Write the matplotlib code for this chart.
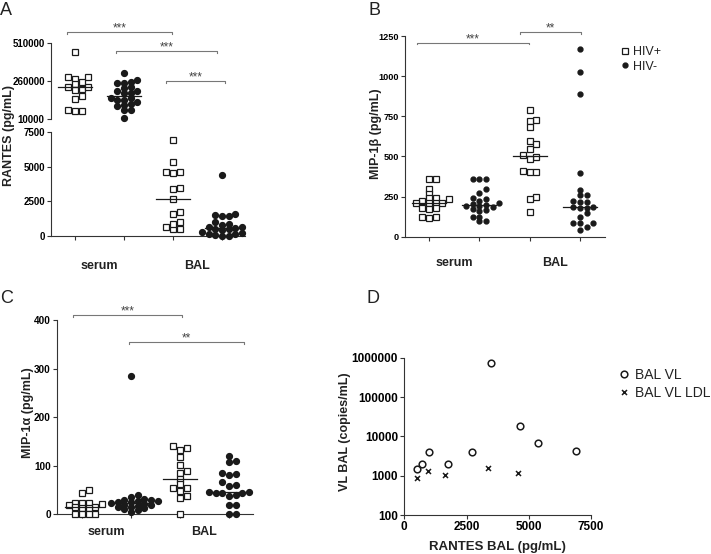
import numpy as np
import matplotlib
matplotlib.use('Agg')
import matplotlib.pyplot as plt
from matplotlib.lines import Line2D
from matplotlib.ticker import NullLocator

plt.rcParams['font.family'] = ['Liberation Sans', 'DejaVu Sans']
plt.rcParams['text.color'] = '#222222'

# ---- data ----
groups = ['serum', 'BAL']

rantes_serum_pos = [447000, 286000, 273000, 256000, 283000, 240000, 224000, 198000,
                    209000, 224000, 159000, 141000, 71000, 65000, 67000]
rantes_serum_neg = [310000, 267000, 250000, 224000, 245000, 256000, 192000, 181000,
                    213000, 192000, 147000, 137000, 181000, 137000, 147000, 111000,
                    104000, 126000, 97000, 71000, 71000, 17000]
rantes_bal_pos = [6900, 5320, 4600, 4550, 4600, 3370, 3460, 2700, 1620, 1740, 1000,
                  640, 500, 520, 900]
rantes_bal_neg = [4370, 1600, 1500, 1450, 1450, 1050, 900, 800, 700, 650, 600, 550,
                  500, 450, 300, 250, 200, 150, 100, 50, 30]

mip1b_serum_pos = [362, 362, 300, 269, 238, 232, 238, 207, 207, 221, 207, 207, 176,
                   170, 180, 124, 114, 120]
mip1b_serum_neg = [362, 362, 362, 300, 275, 240, 235, 225, 210, 205, 193, 195, 190,
                   185, 170, 165, 160, 125, 120, 95, 95]
mip1b_bal_pos = [790, 728, 719, 682, 595, 575, 548, 497, 510, 485, 407, 403, 403,
                 248, 234, 155]
mip1b_bal_neg = [1167, 1028, 887, 395, 293, 262, 262, 215, 217, 222, 182, 180, 186,
                 176, 145, 124, 87, 83, 87, 41, 58]

mip1a_serum_pos = [50, 44.5, 24, 23, 23, 21, 19, 16, 14, 12, 12, 0, 0, 0, 0]
mip1a_serum_neg = [285, 40, 35, 32, 30, 30, 28, 27, 25, 25, 24, 22, 20, 20, 18, 15,
                   15, 12, 10, 8, 5]
mip1a_bal_pos = [140, 137, 133, 117, 102, 89, 86, 73, 62, 55, 55, 47, 38, 33, 0]
mip1a_bal_neg = [119, 110, 108, 84, 82, 80, 66, 60, 58, 46, 45, 44, 44, 43, 40, 38,
                 20, 20, 0, 0]

vl_rantes = [496, 698, 1006, 1771, 2737, 3489, 4656, 5354, 6910]
vl_copies = [1480, 2000, 4070, 2030, 3980, 730000, 18600, 6900, 4240]
ldl_rantes = [523, 939, 1637, 3381, 4562]
ldl_copies = [855, 1350, 1070, 1540, 1200]

W, H = 711, 554
STEP = 6.7   # horizontal pitch of the dots, px
GAP = 4.8    # min distance between dot centres, px
BAR_C = '#777777'
INK = '#1a1a1a'


def rect(x0, y0, x1, y1):
    return [x0 / W, 1 - y1 / H, (x1 - x0) / W, (y1 - y0) / H]


def swarm(vals, px_unit):
    # greedy beeswarm: offsets in px
    vals = np.asarray(vals, float)
    placed = []
    offs = np.zeros(len(vals))
    cands = [0.0]
    for j in range(1, 12):
        cands += [j * STEP, -j * STEP]
    for i in np.argsort(vals):
        y = vals[i] * px_unit
        for c in cands:
            if all((c - px) ** 2 + (y - py) ** 2 >= GAP ** 2 for px, py in placed):
                break
        placed.append((c, y))
        offs[i] = c
    return offs


def column(ax, pos, vals, hollow, ms, px_unit, px_x):
    vals = np.asarray(vals, float)
    x = pos + swarm(vals, px_unit) / px_x
    if hollow:
        ax.plot(x, vals, 's', ms=ms, mfc='white', mec=INK, mew=0.9, ls='none', clip_on=False, zorder=3)
    else:
        ax.plot(x, vals, 'o', ms=ms, color=INK, ls='none', clip_on=False, zorder=3)
    med = np.median(vals)
    ax.plot([pos - 0.34, pos + 0.34], [med, med], color=INK, lw=0.9, zorder=4)


def sig(ax, x0, x1, y, drop, stars):
    ax.plot([x0, x0, x1, x1], [y - drop, y, y, y - drop], color=BAR_C, lw=0.8, clip_on=False)
    ax.annotate(stars, xy=((x0 + x1) / 2, y), xytext=(0, 0.5), textcoords='offset points',
                ha='center', va='baseline', fontsize=8.5, color='#444444', annotation_clip=False)


def style(ax, labelsize=7):
    for s in ['top', 'right']:
        ax.spines[s].set_visible(False)
    for s in ['left', 'bottom']:
        ax.spines[s].set_linewidth(0.8)
        ax.spines[s].set_color('#333333')
    ax.tick_params(length=3, width=0.8, color='#333333', labelsize=labelsize, pad=1.5)


def group_labels(ax, off_px):
    for p, g in zip([1.5, 3.5], groups):
        ax.annotate(g, xy=(p, 0), xycoords=('data', 'axes fraction'), xytext=(0, -off_px * 0.72),
                    textcoords='offset points', ha='center', va='center', fontsize=9, fontweight='bold')


def set_yt(ax, ticks):
    ax.set_yticks(ticks, labels=[f'{t:g}' if t < 1e5 else f'{int(t)}' for t in ticks], fontweight='bold')


fig = plt.figure(figsize=(W / 100, H / 100), dpi=100)

# ---- A: split axis ----
xl_a = (0.51, 4.47)
ax_au = fig.add_axes(rect(51, 42.7, 245, 119.3))
ax_al = fig.add_axes(rect(51, 131.7, 245, 236.3))
for ax in (ax_au, ax_al):
    style(ax)
    ax.set_xlim(*xl_a)
ax_au.spines['bottom'].set_visible(False)
ax_au.set_xticks([])
ax_au.set_ylim(10000, 510000)
set_yt(ax_au, [10000, 260000, 510000])
ax_al.set_ylim(0, 7500)
set_yt(ax_al, [0, 2500, 5000, 7500])
ax_al.set_xticks([1, 2, 3, 4], labels=[])

column(ax_au, 1, rantes_serum_pos, True, 4.6, 76.6 / 500000, 49)
column(ax_au, 2, rantes_serum_neg, False, 4.2, 76.6 / 500000, 49)
column(ax_al, 3, rantes_bal_pos, True, 4.6, 104.6 / 7500, 49)
column(ax_al, 4, rantes_bal_neg, False, 4.2, 104.6 / 7500, 49)
sig(ax_au, 0.83, 2.99, 581800, 13000, '***')
sig(ax_au, 1.84, 3.89, 455800, 13000, '***')
sig(ax_au, 2.85, 4.06, 260000, 13000, '***')
group_labels(ax_al, 30)

# ---- B ----
ax_b = fig.add_axes(rect(405, 36, 605, 236.7))
style(ax_b, 6.6)
ax_b.set_xlim(0.523, 4.497)
ax_b.set_ylim(0, 1250)
set_yt(ax_b, [0, 250, 500, 750, 1000, 1250])
ax_b.set_xticks([1, 2, 3, 4], labels=[])
px_b = 200.7 / 1250
column(ax_b, 1, mip1b_serum_pos, True, 3.9, px_b, 50.3)
column(ax_b, 2, mip1b_serum_neg, False, 3.5, px_b, 50.3)
column(ax_b, 3, mip1b_bal_pos, True, 3.9, px_b, 50.3)
column(ax_b, 4, mip1b_bal_neg, False, 3.5, px_b, 50.3)
sig(ax_b, 0.756, 2.994, 1208, 10, '***')
sig(ax_b, 2.81, 4.02, 1275, 10, '**')
group_labels(ax_b, 26)
hb = [Line2D([], [], marker='s', ls='none', ms=4.2, mfc='white', mec=INK, mew=0.9),
      Line2D([], [], marker='o', ls='none', ms=3.5, color=INK)]
ax_b.legend(hb, ['HIV+', 'HIV-'], loc='upper left', bbox_to_anchor=(621 / W, 1 - 46 / H),
            bbox_transform=fig.transFigure, frameon=False, fontsize=9, handlelength=0.6,
            handletextpad=0.35, labelspacing=0.2, borderpad=0, borderaxespad=0)

# ---- C ----
ax_c = fig.add_axes(rect(57, 320, 253, 514.3))
style(ax_c, 7.2)
ax_c.set_xlim(0.49, 4.49)
ax_c.set_ylim(0, 400)
set_yt(ax_c, [0, 100, 200, 300, 400])
ax_c.set_xticks([1, 2, 3, 4], labels=[])
px_c = 194.3 / 400
column(ax_c, 1, mip1a_serum_pos, True, 4.6, px_c, 49)
column(ax_c, 2, mip1a_serum_neg, False, 4.2, px_c, 49)
column(ax_c, 3, mip1a_bal_pos, True, 4.6, px_c, 49)
column(ax_c, 4, mip1a_bal_neg, False, 4.2, px_c, 49)
sig(ax_c, 0.823, 3.05, 410, 4, '***')
sig(ax_c, 1.966, 4.31, 355, 4, '**')
group_labels(ax_c, 18)

# ---- D ----
ax_d = fig.add_axes(rect(404.3, 357.7, 591, 515))
style(ax_d, 8.5)
ax_d.set_yscale('log')
ax_d.set_ylim(100, 1e6)
ax_d.set_xlim(0, 7500)
ax_d.yaxis.set_minor_locator(NullLocator())
set_yt(ax_d, [100, 1000, 10000, 100000, 1000000])
ax_d.set_xticks([0, 2500, 5000, 7500], labels=['0', '2500', '5000', '7500'], fontweight='bold')
ax_d.plot(vl_rantes, vl_copies, 'o', ms=4.8, mfc='none', mec=INK, mew=1.1, ls='none', clip_on=False)
ax_d.plot(ldl_rantes, ldl_copies, 'x', ms=3.6, color=INK, mew=1.1, ls='none', clip_on=False)
hd = [Line2D([], [], marker='o', ls='none', ms=4.8, mfc='none', mec=INK, mew=1.1),
      Line2D([], [], marker='x', ls='none', ms=3.6, color=INK, mew=1.1)]
ax_d.legend(hd, ['BAL VL', 'BAL VL LDL'], loc='upper left', bbox_to_anchor=(620 / W, 1 - 368 / H),
            bbox_transform=fig.transFigure, frameon=False, fontsize=10, handlelength=0.6,
            handletextpad=0.45, labelspacing=0.3, borderpad=0, borderaxespad=0)

# ---- labels ----
lab = dict(fontsize=9, fontweight='bold', rotation=90, ha='center', va='center')
fig.text(9 / W, 1 - 136 / H, 'RANTES (pg/mL)', **lab)
fig.text(376 / W, 1 - 134 / H, 'MIP-1β (pg/mL)', **lab)
fig.text(27.5 / W, 1 - 413 / H, 'MIP-1α (pg/mL)', **lab)
fig.text(345 / W, 1 - 432 / H, 'VL BAL (copies/mL)', **lab)
fig.text(497 / W, 1 - 547 / H, 'RANTES BAL (pg/mL)', fontsize=9.5, fontweight='bold',
         ha='center', va='center')

for t, x, y in [('A', 0, 15), ('B', 369, 15), ('C', 0, 303), ('D', 367, 303)]:
    fig.text(x / W, 1 - y / H, t, fontsize=13, va='baseline', ha='left')

fig.savefig('out.png', dpi=100)
